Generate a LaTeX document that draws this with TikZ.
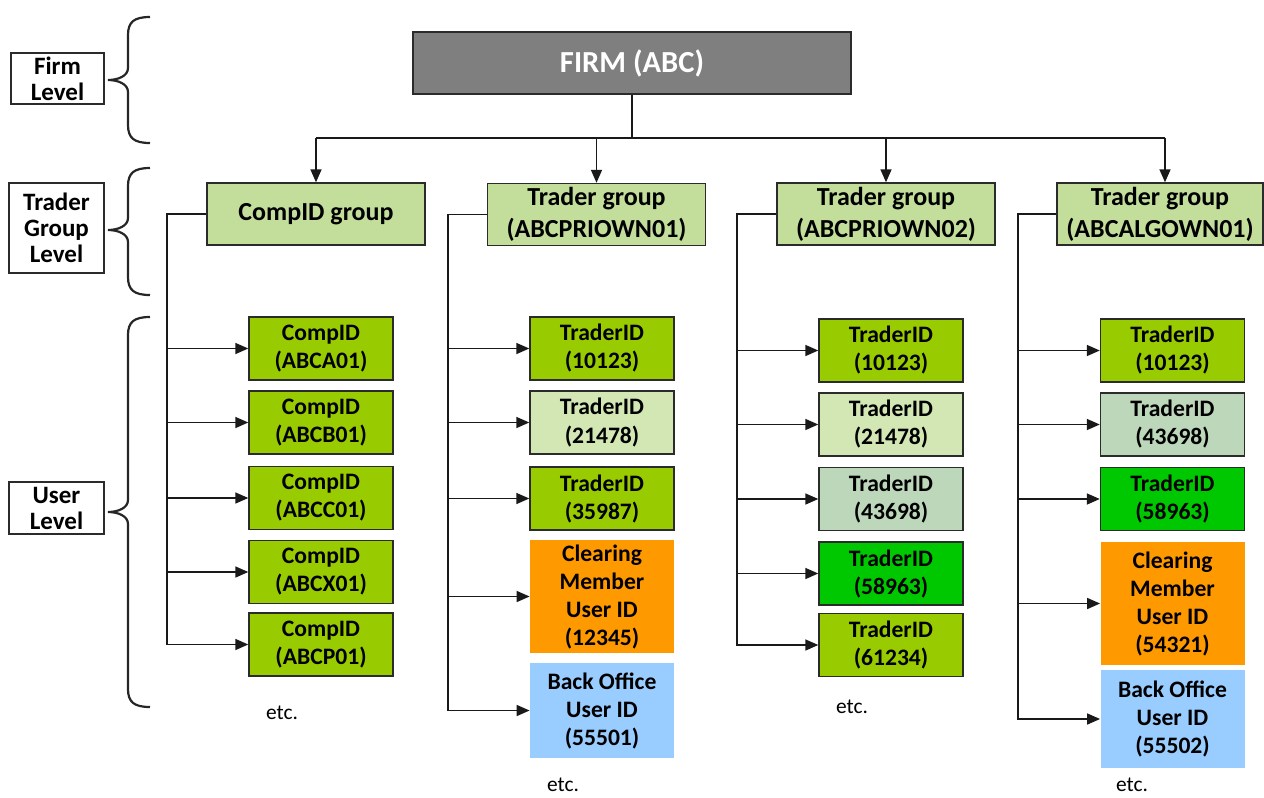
\documentclass[tikz,border=0pt]{standalone}
\usepackage{fontspec}
\setmainfont{Carlito}
\usetikzlibrary{arrows.meta}
\definecolor{firmgray}{HTML}{7F7F7F}
\definecolor{grpgreen}{HTML}{C3DE9B}
\definecolor{cidgreen}{HTML}{99CC00}
\definecolor{lightg}{HTML}{D3E7B5}
\definecolor{greyg}{HTML}{BDD7BA}
\definecolor{brightg}{HTML}{00C800}
\definecolor{orangebox}{HTML}{FF9900}
\definecolor{bluebox}{HTML}{99CCFF}
\definecolor{edge}{HTML}{2B2B2B}
\begin{document}
\begin{tikzpicture}[x=0.5pt,y=-0.5pt,
  firm/.style={fill=firmgray,draw=edge,line width=0.7pt,text=white,inner sep=0pt,
    minimum width=219pt,minimum height=31pt,font=\bfseries\fontsize{15.3}{18}\selectfont},
  grp/.style={fill=grpgreen,draw=edge,line width=0.7pt,inner sep=0pt,align=center,
    minimum width=109pt,minimum height=31pt,font=\bfseries\fontsize{13}{16}\selectfont},
  ubox/.style={draw=edge,line width=0.7pt,inner sep=0pt,align=center,
    minimum width=72pt,minimum height=31.5pt,font=\bfseries\fontsize{11.8}{14}\selectfont},
  flat/.style={inner sep=0pt,align=center,minimum width=72pt,
    font=\bfseries\fontsize{11.8}{14}\selectfont},
  lvl/.style={draw=edge,line width=0.6pt,inner sep=0pt,align=center,
    font=\bfseries\fontsize{12.5}{13}\selectfont},
  etcs/.style={font=\fontsize{10.7}{13}\selectfont,inner sep=0pt},
  conn/.style={line width=0.8pt,draw=black!90},
  arr/.style={conn,-{Triangle[length=6.5pt,width=5.5pt]}},
  brc/.style={line width=1.1pt,draw=black!85}
]
\useasboundingbox (0,0) rectangle (1264,798);

% level labels
\node[lvl,minimum width=46.5pt,minimum height=25.5pt] (lf) at (57.5,78.5) {Firm\\Level};
\node[lvl,minimum width=47.5pt,minimum height=45pt] (lt) at (56.5,228) {Trader\\Group\\Level};
\node[lvl,minimum width=47.5pt,minimum height=26pt] (lu) at (56.5,508) {User\\Level};

% braces
\draw[brc] (150,17) .. controls (134,17) and (128,22) .. (128,35) -- (128,68)
  .. controls (128,76) and (118,80) .. (108,80) .. controls (118,80) and (128,84) .. (128,92)
  -- (128,125) .. controls (128,138) and (134,143) .. (150,143);
\draw[brc] (150,168) .. controls (134,168) and (128,173) .. (128,186) -- (128,218)
  .. controls (128,226) and (118,230) .. (108,230) .. controls (118,230) and (128,234) .. (128,242)
  -- (128,277) .. controls (128,290) and (134,295) .. (150,295);
\draw[brc] (150,317) .. controls (134,317) and (128,322) .. (128,335) -- (128,500)
  .. controls (128,508) and (118,512) .. (108,512) .. controls (118,512) and (128,516) .. (128,524)
  -- (128,689) .. controls (128,702) and (134,707) .. (150,707);

% firm
\node[firm] (firm) at (632,63) {FIRM (ABC)};

% groups
\node[grp] (g1) at (316,214) {CompID group};
\node[grp] (g2) at (596.5,214.5) {Trader group\\(ABCPRIOWN01)};
\node[grp] (g3) at (886,214) {Trader group\\(ABCPRIOWN02)};
\node[grp,minimum width=103pt] (g4) at (1160,214) {Trader group\\(ABCALGOWN01)};

% column 1
\node[ubox,fill=cidgreen] (u11) at (321,348.5) {CompID\\(ABCA01)};
\node[ubox,fill=cidgreen] (u12) at (321,422.5) {CompID\\(ABCB01)};
\node[ubox,fill=cidgreen] (u13) at (321,498) {CompID\\(ABCC01)};
\node[ubox,fill=cidgreen] (u14) at (321,572) {CompID\\(ABCX01)};
\node[ubox,fill=cidgreen] (u15) at (321,644.5) {CompID\\(ABCP01)};
\node[etcs] (e1) at (282,713) {etc.};

% column 2
\node[ubox,fill=cidgreen] (u21) at (602,348.5) {TraderID\\(10123)};
\node[ubox,fill=lightg] (u22) at (602,422.5) {TraderID\\(21478)};
\node[ubox,fill=cidgreen] (u23) at (602,498.5) {TraderID\\(35987)};
\node[flat,fill=orangebox,minimum height=56.5pt] (u24) at (602,596.5) {Clearing\\Member\\User ID\\(12345)};
\node[flat,fill=bluebox,minimum height=47.5pt] (u25) at (602,710.5) {Back Office\\User ID\\(55501)};
\node[etcs] (e2) at (563,785) {etc.};

% column 3
\node[ubox,fill=cidgreen] (u31) at (891,350.5) {TraderID\\(10123)};
\node[ubox,fill=lightg] (u32) at (891,424.5) {TraderID\\(21478)};
\node[ubox,fill=greyg] (u33) at (891,499) {TraderID\\(43698)};
\node[ubox,fill=brightg] (u34) at (891,573.5) {TraderID\\(58963)};
\node[ubox,fill=cidgreen] (u35) at (891,645) {TraderID\\(61234)};
\node[etcs] (e3) at (852,707) {etc.};

% column 4
\node[ubox,fill=cidgreen] (u41) at (1172.5,350.5) {TraderID\\(10123)};
\node[ubox,fill=greyg] (u42) at (1172.5,424.5) {TraderID\\(43698)};
\node[ubox,fill=brightg] (u43) at (1172.5,499) {TraderID\\(58963)};
\node[flat,fill=orangebox,minimum height=61.5pt] (u44) at (1172.5,603.5) {Clearing\\Member\\User ID\\(54321)};
\node[flat,fill=bluebox,minimum height=49pt] (u45) at (1172.5,719) {Back Office\\User ID\\(55502)};
\node[etcs] (e4) at (1132,785) {etc.};

% firm to groups
\coordinate (bus) at (632,138);
\coordinate (a4) at (1165,138);
\draw[conn] (firm.south) -- (bus);
\draw[conn] (g1.north |- bus) -- (a4);
\draw[arr] (g1.north |- bus) -- (g1.north);
\draw[arr] (g2.north |- bus) -- (g2.north);
\draw[arr] (g3.north |- bus) -- (g3.north);
\draw[arr] (a4) -- (a4 |- g4.north);

% trunks
\coordinate (t1) at (167,0);
\coordinate (t2) at (448,0);
\coordinate (t3) at (737,0);
\coordinate (t4) at (1018,0);
\draw[arr] (g1.west) -| (t1 |- u15.west) -- (u15.west);
\foreach \n in {11,12,13,14}{\draw[arr] (t1 |- u\n.west) -- (u\n.west);}
\draw[arr] (g2.west) -| (t2 |- u25.west) -- (u25.west);
\foreach \n in {21,22,23,24}{\draw[arr] (t2 |- u\n.west) -- (u\n.west);}
\draw[arr] (g3.west) -| (t3 |- u35.west) -- (u35.west);
\foreach \n in {31,32,33,34}{\draw[arr] (t3 |- u\n.west) -- (u\n.west);}
\draw[arr] (g4.west) -| (t4 |- u45.west) -- (u45.west);
\foreach \n in {41,42,43,44}{\draw[arr] (t4 |- u\n.west) -- (u\n.west);}
\end{tikzpicture}
\end{document}
